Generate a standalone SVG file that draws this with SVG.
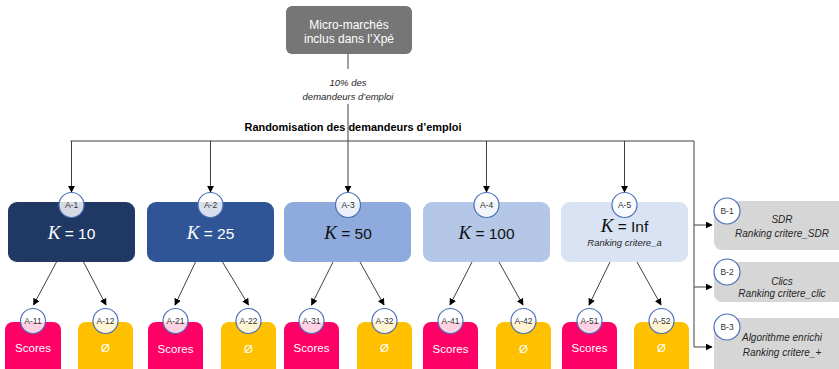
<svg xmlns="http://www.w3.org/2000/svg" width="839" height="369" viewBox="0 0 839 369">
<defs>
<marker id="ah" viewBox="0 0 10 10" refX="9" refY="5" markerWidth="7" markerHeight="7" orient="auto" markerUnits="userSpaceOnUse">
<path d="M0,0 L10,5 L0,10 z" fill="#000"/>
</marker>
<style>
.ln{stroke:#404040;stroke-width:1;fill:none}
.ar{stroke:#404040;stroke-width:1;fill:none;marker-end:url(#ah)}
.badge{fill:#fff;fill-opacity:0.82;stroke:#4a6fb5;stroke-width:1.2}
.bt{font-family:"Liberation Sans",Arial,sans-serif;font-size:8.5px;fill:#333;text-anchor:middle}
.k{font-family:"Liberation Serif","DejaVu Serif",serif;font-style:italic;font-size:19px}
.num{font-family:"Liberation Sans",Arial,sans-serif;font-size:15.5px}
.it{font-family:"Liberation Sans",Arial,sans-serif;font-style:italic;font-size:9.5px;fill:#262626;text-anchor:middle}
.bi{font-family:"Liberation Sans",Arial,sans-serif;font-style:italic;font-size:10px;fill:#262626;text-anchor:middle}
.sc{font-family:"Liberation Sans",Arial,sans-serif;font-size:11.5px;fill:#fff;text-anchor:middle}
.pink{fill:#ff0066}
.gold{fill:#ffc000}
.bbox{fill:#d6d6d6}
</style>
</defs>
<rect width="839" height="369" fill="#fff"/>

<g id="connectors">
<line class="ln" x1="348" y1="54" x2="348" y2="69"/>
<line class="ln" x1="348" y1="104" x2="348" y2="141"/>
<line class="ln" x1="70.5" y1="141" x2="694" y2="141"/>
<line class="ar" x1="71.5" y1="141" x2="71.5" y2="192"/>
<line class="ar" x1="210.5" y1="141" x2="210.5" y2="192"/>
<line class="ar" x1="348" y1="141" x2="348" y2="192"/>
<line class="ar" x1="486.5" y1="141" x2="486.5" y2="192"/>
<line class="ar" x1="624.5" y1="141" x2="624.5" y2="192"/>
<line class="ln" x1="694" y1="141" x2="694" y2="347"/>
<line class="ar" x1="694" y1="225" x2="712" y2="225"/>
<line class="ar" x1="694" y1="287" x2="712" y2="287"/>
<line class="ar" x1="694" y1="347" x2="712" y2="347"/>
<line class="ar" x1="56.5" y1="262" x2="33.5" y2="305"/>
<line class="ar" x1="83.5" y1="262" x2="106" y2="305"/>
<line class="ar" x1="195.5" y1="262" x2="175" y2="305"/>
<line class="ar" x1="222.5" y1="262" x2="248.5" y2="305"/>
<line class="ar" x1="333" y1="262" x2="311.5" y2="305"/>
<line class="ar" x1="360" y1="262" x2="384" y2="305"/>
<line class="ar" x1="472" y1="262" x2="450" y2="305"/>
<line class="ar" x1="499" y1="262" x2="523" y2="305"/>
<line class="ar" x1="610" y1="262" x2="589" y2="305"/>
<line class="ar" x1="637" y1="262" x2="661" y2="305"/>
</g>

<g id="top">
<rect x="286" y="6" width="126" height="48" rx="6" fill="#767676"/>
<text x="349" y="29" font-family="Liberation Sans,Arial,sans-serif" font-size="12" fill="#fff" text-anchor="middle">Micro-marchés</text>
<text x="349" y="43" font-family="Liberation Sans,Arial,sans-serif" font-size="12" fill="#fff" text-anchor="middle">inclus dans l’Xpé</text>
</g>
<g id="label-10">
<text class="it" x="348" y="86">10% des</text>
<text class="it" x="348" y="100">demandeurs d’emploi</text>
</g>
<g id="label-rando">
<text x="353" y="131" font-family="Liberation Sans,Arial,sans-serif" font-size="11.5" font-weight="bold" fill="#000" text-anchor="middle" textLength="217" lengthAdjust="spacingAndGlyphs">Randomisation des demandeurs d’emploi</text>
</g>

<g id="A-1">
<rect x="8" y="202" width="127" height="60" rx="9" fill="#1f3864"/>
<circle class="badge" cx="71.5" cy="205" r="12.5"/>
<text class="bt" x="71.5" y="208">A-1</text>
<text x="71.5" y="239" text-anchor="middle" fill="#fff"><tspan class="k">K</tspan><tspan class="num"> = 10</tspan></text>
</g>
<g id="A-2">
<rect x="147" y="202" width="127" height="60" rx="9" fill="#2f5597"/>
<circle class="badge" cx="210.5" cy="205" r="12.5"/>
<text class="bt" x="210.5" y="208">A-2</text>
<text x="210.5" y="239" text-anchor="middle" fill="#fff"><tspan class="k">K</tspan><tspan class="num"> = 25</tspan></text>
</g>
<g id="A-3">
<rect x="284" y="202" width="127" height="60" rx="9" fill="#8faadc"/>
<circle class="badge" cx="348" cy="205" r="12.5"/>
<text class="bt" x="348" y="208">A-3</text>
<text x="348" y="239" text-anchor="middle" fill="#111"><tspan class="k">K</tspan><tspan class="num"> = 50</tspan></text>
</g>
<g id="A-4">
<rect x="423" y="202" width="127" height="60" rx="9" fill="#b4c7e7"/>
<circle class="badge" cx="486.5" cy="205" r="12.5"/>
<text class="bt" x="486.5" y="208">A-4</text>
<text x="486.5" y="239" text-anchor="middle" fill="#111"><tspan class="k">K</tspan><tspan class="num"> = 100</tspan></text>
</g>
<g id="A-5">
<rect x="561" y="202" width="127" height="60" rx="9" fill="#dae3f3"/>
<circle class="badge" cx="624.5" cy="205" r="12.5"/>
<text class="bt" x="624.5" y="208">A-5</text>
<text x="624.5" y="232" text-anchor="middle" fill="#111"><tspan class="k">K</tspan><tspan class="num"> = Inf</tspan></text>
<text class="it" x="624.5" y="246">Ranking critere_a</text>
</g>

<g id="A-11">
<rect class="pink" x="5" y="322" width="56" height="60" rx="8"/>
<circle class="badge" cx="33" cy="321" r="12.5"/>
<text class="bt" x="33" y="324">A-11</text>
<text class="sc" x="33" y="352">Scores</text>
</g>
<g id="A-12">
<rect class="gold" x="78" y="322" width="55" height="60" rx="8"/>
<circle class="badge" cx="105.5" cy="321" r="12.5"/>
<text class="bt" x="105.5" y="324">A-12</text>
<text class="sc" x="105.5" y="352">Ø</text>
</g>
<g id="A-21">
<rect class="pink" x="148" y="322" width="55" height="60" rx="8"/>
<circle class="badge" cx="175.5" cy="321" r="12.5"/>
<text class="bt" x="175.5" y="324">A-21</text>
<text class="sc" x="175.5" y="353">Scores</text>
</g>
<g id="A-22">
<rect class="gold" x="221" y="322" width="55" height="60" rx="8"/>
<circle class="badge" cx="248.5" cy="321" r="12.5"/>
<text class="bt" x="248.5" y="324">A-22</text>
<text class="sc" x="248.5" y="353">Ø</text>
</g>
<g id="A-31">
<rect class="pink" x="284" y="322" width="55" height="60" rx="8"/>
<circle class="badge" cx="311.5" cy="321" r="12.5"/>
<text class="bt" x="311.5" y="324">A-31</text>
<text class="sc" x="311.5" y="352">Scores</text>
</g>
<g id="A-32">
<rect class="gold" x="357" y="322" width="55" height="60" rx="8"/>
<circle class="badge" cx="384.5" cy="321" r="12.5"/>
<text class="bt" x="384.5" y="324">A-32</text>
<text class="sc" x="384.5" y="352">Ø</text>
</g>
<g id="A-41">
<rect class="pink" x="423" y="322" width="55" height="60" rx="8"/>
<circle class="badge" cx="450.5" cy="321" r="12.5"/>
<text class="bt" x="450.5" y="324">A-41</text>
<text class="sc" x="450.5" y="353">Scores</text>
</g>
<g id="A-42">
<rect class="gold" x="496" y="322" width="55" height="60" rx="8"/>
<circle class="badge" cx="523.5" cy="321" r="12.5"/>
<text class="bt" x="523.5" y="324">A-42</text>
<text class="sc" x="523.5" y="353">Ø</text>
</g>
<g id="A-51">
<rect class="pink" x="562" y="322" width="55" height="60" rx="8"/>
<circle class="badge" cx="589.5" cy="321" r="12.5"/>
<text class="bt" x="589.5" y="324">A-51</text>
<text class="sc" x="589.5" y="352">Scores</text>
</g>
<g id="A-52">
<rect class="gold" x="634" y="322" width="55" height="60" rx="8"/>
<circle class="badge" cx="661.5" cy="321" r="12.5"/>
<text class="bt" x="661.5" y="324">A-52</text>
<text class="sc" x="661.5" y="352">Ø</text>
</g>

<g id="B-1">
<rect class="bbox" x="714" y="201" width="140" height="49" rx="8"/>
<circle class="badge" style="fill-opacity:1" cx="727" cy="211" r="13"/>
<text class="bt" x="727" y="214">B-1</text>
<text class="bi" x="782" y="223">SDR</text>
<text class="bi" x="782" y="237">Ranking critere_SDR</text>
</g>
<g id="B-2">
<rect class="bbox" x="714" y="262" width="140" height="40" rx="8"/>
<circle class="badge" style="fill-opacity:1" cx="727" cy="272" r="13"/>
<text class="bt" x="727" y="275">B-2</text>
<text class="bi" x="782" y="285">Clics</text>
<text class="bi" x="782" y="297">Ranking critere_clic</text>
</g>
<g id="B-3">
<rect class="bbox" x="714" y="318" width="140" height="60" rx="8"/>
<circle class="badge" style="fill-opacity:1" cx="727" cy="327" r="13"/>
<text class="bt" x="727" y="330">B-3</text>
<text class="bi" x="782" y="341">Algorithme enrichi</text>
<text class="bi" x="782" y="356">Ranking critere_+</text>
</g>
</svg>
